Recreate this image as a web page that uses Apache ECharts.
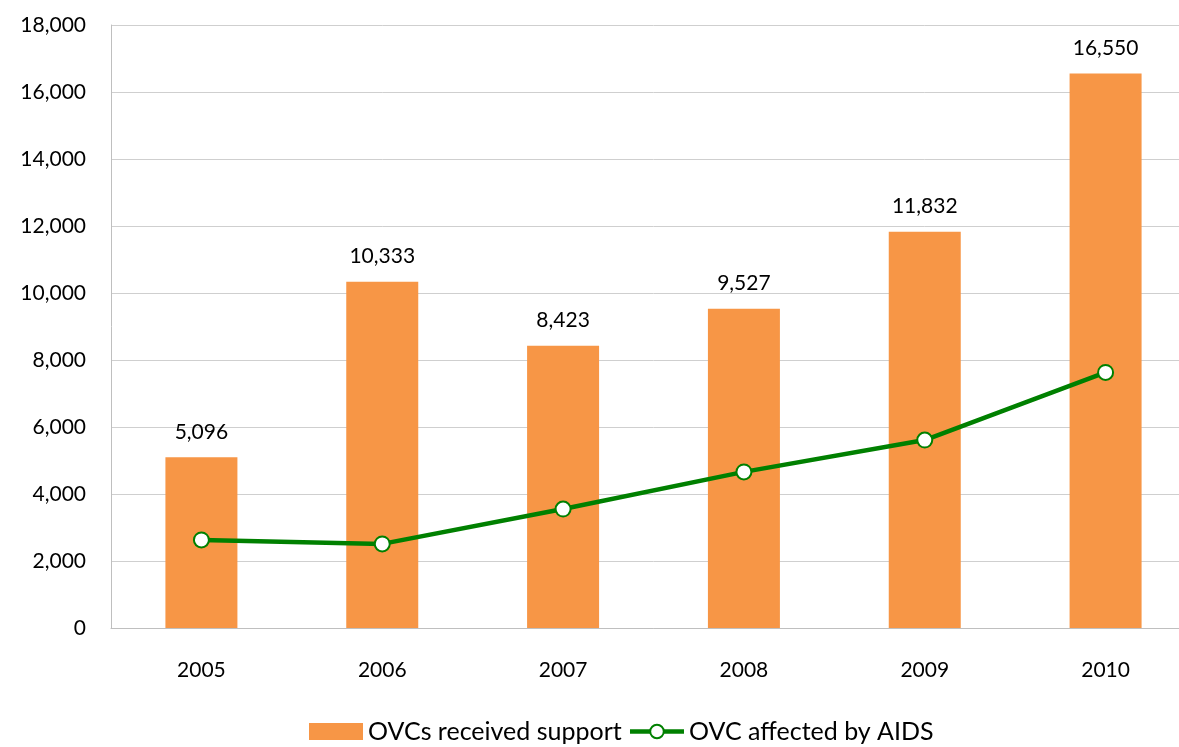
<!DOCTYPE html>
<html>
<head>
<meta charset="utf-8">
<script src="https://cdn.jsdelivr.net/npm/echarts@6/dist/echarts.min.js"></script>
<style>html,body{margin:0;padding:0;background:#fff;overflow:hidden;width:1179px;height:747px}#c{width:1240px;height:747px}</style>
</head>
<body>
<div id="c"></div>
<script>
const categories = ['2005','2006','2007','2008','2009','2010'];
const supportValues = [5096, 10333, 8423, 9527, 11832, 16550];
const aidsValues = [2630, 2510, 3550, 4660, 5610, 7630];
const yTicks = {min: 0, max: 18000, interval: 2000};
const FONT = 'Lato';

const chart = echarts.init(document.getElementById('c'), null, {renderer: 'canvas'});
chart.setOption({
  animation: false,
  textStyle: {fontFamily: FONT},
  grid: {left: 111, right: 44, top: 25, bottom: 119, containLabel: false},
  legend: {
    top: 719,
    left: 304,
    itemGap: 6,
    padding: [0, 5],
    textStyle: {fontSize: 25, color: '#000', fontFamily: FONT},
    data: [
      {name: 'OVCs received support', icon: 'rect', itemStyle: {color: '#F79646'}},
      {name: 'OVC affected by AIDS', lineStyle: {width: 4.5, color: '#008000'}}
    ],
    itemWidth: 54,
    itemHeight: 17
  },
  xAxis: {
    type: 'category',
    data: categories,
    axisLine: {lineStyle: {color: '#bfbfbf', width: 1}},
    axisTick: {show: false},
    axisLabel: {color: '#000', fontSize: 21, margin: 32, fontFamily: FONT}
  },
  yAxis: {
    type: 'value',
    min: yTicks.min, max: yTicks.max, interval: yTicks.interval,
    axisLine: {show: true, lineStyle: {color: '#bfbfbf', width: 1}},
    axisTick: {show: false},
    splitLine: {lineStyle: {color: '#cfcfcf', width: 1}},
    axisLabel: {
      color: '#000', fontSize: 21, margin: 25, fontFamily: FONT,
      formatter: v => v.toLocaleString('en-US')
    }
  },
  series: [
    {
      name: 'OVCs received support',
      type: 'bar',
      data: supportValues,
      barWidth: 72,
      itemStyle: {color: '#F79646'},
      label: {
        show: true, position: 'top', distance: 15,
        color: '#000', fontSize: 21, fontFamily: FONT,
        formatter: p => p.value.toLocaleString('en-US')
      }
    },
    {
      name: 'OVC affected by AIDS',
      type: 'line',
      data: aidsValues,
      symbol: 'circle',
      symbolSize: 15,
      showSymbol: true,
      lineStyle: {color: '#008000', width: 4.5},
      itemStyle: {color: '#ffffff', borderColor: '#008000', borderWidth: 2},
      z: 5
    }
  ]
});
</script>
</body>
</html>
